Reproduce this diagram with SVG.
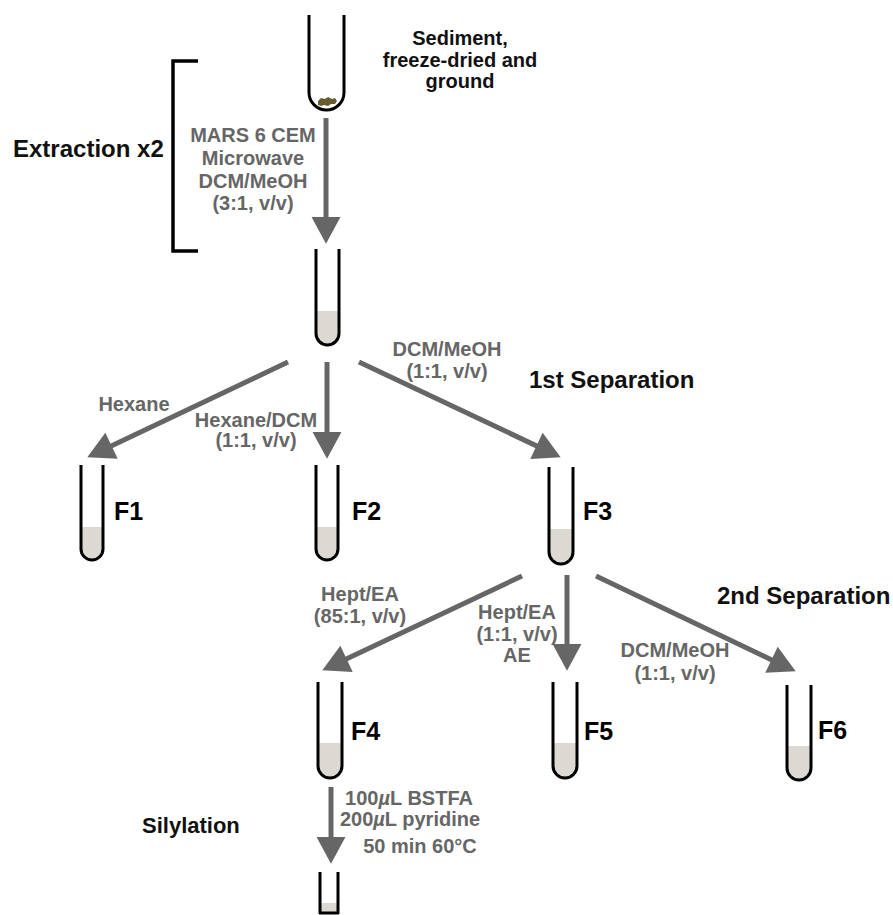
<svg xmlns="http://www.w3.org/2000/svg" width="893" height="915" viewBox="0 0 893 915">
<style>
.tube{fill:none;stroke:#000;stroke-width:3;stroke-linejoin:round}
.liq{fill:#dcd9d2;stroke:none}
.arr{stroke:#666;stroke-width:5;fill:none;marker-end:url(#ah)}
.g{font-family:"Liberation Sans",Arial,sans-serif;font-weight:bold;font-size:20px;fill:#666;text-anchor:middle}
.b{font-family:"Liberation Sans",Arial,sans-serif;font-weight:bold;font-size:20px;fill:#111;text-anchor:middle}
.h{font-family:"Liberation Sans",Arial,sans-serif;font-weight:bold;font-size:24px;fill:#111}
.f{font-family:"Liberation Sans",Arial,sans-serif;font-weight:bold;font-size:25px;fill:#000}
</style>
<defs>
<marker id="ah" markerUnits="userSpaceOnUse" markerWidth="30" markerHeight="30" viewBox="0 -14 26 28" refX="15" refY="0" orient="auto">
<path d="M0,-13.5 L25,0 L0,13.5 Z" fill="#666"/>
</marker>
</defs>
<rect width="893" height="915" fill="#fff"/>

<g id="sediment">
<path class="tube" d="M309,15 V92.5 A17.5,17.5 0 0 0 344,92.5 V15"/>
<path d="M318,101 l3,-3 l4,1 l3,-2 l4,2 l3,-1 l2,3 l-2,3 l-4,0 l-3,2 l-4,-1 l-3,1 l-3,-1 Z" fill="#6a5a32"/>
<text class="b" x="460" y="45">Sediment,</text>
<text class="b" x="460" y="67">freeze-dried and</text>
<text class="b" x="460" y="88">ground</text>
</g>

<g id="extraction">
<path d="M198,61 H173 V251 H198" fill="none" stroke="#000" stroke-width="3.5"/>
<text class="h" x="13" y="157">Extraction x2</text>
</g>

<g id="extract">
<path class="liq" d="M316,311 V333.5 A11.5,11.5 0 0 0 339,333.5 V311 Z"/>
<path class="tube" d="M316,249 V333.5 A11.5,11.5 0 0 0 339,333.5 V249"/>
</g>

<g id="F1">
<path class="liq" d="M81,527 V549 A11,11 0 0 0 103,549 V527 Z"/>
<path class="tube" d="M81,465 V549 A11,11 0 0 0 103,549 V465"/>
<text class="f" x="114" y="520">F1</text>
</g>

<g id="F2">
<path class="liq" d="M316,527 V549 A11,11 0 0 0 338,549 V527 Z"/>
<path class="tube" d="M316,465 V549 A11,11 0 0 0 338,549 V465"/>
<text class="f" x="352" y="520">F2</text>
</g>

<g id="F3">
<path class="liq" d="M549,529 V552 A12,12 0 0 0 573,552 V529 Z"/>
<path class="tube" d="M549,467 V552 A12,12 0 0 0 573,552 V467"/>
<text class="f" x="583" y="520">F3</text>
</g>

<g id="F4">
<path class="liq" d="M318,743 V766 A12,12 0 0 0 342,766 V743 Z"/>
<path class="tube" d="M318,682 V766 A12,12 0 0 0 342,766 V682"/>
<text class="f" x="351" y="740">F4</text>
</g>

<g id="F5">
<path class="liq" d="M553,743 V766 A12,12 0 0 0 577,766 V743 Z"/>
<path class="tube" d="M553,682 V766 A12,12 0 0 0 577,766 V682"/>
<text class="f" x="584" y="740">F5</text>
</g>

<g id="F6">
<path class="liq" d="M787,746 V768 A12,12 0 0 0 811,768 V746 Z"/>
<path class="tube" d="M787,685 V768 A12,12 0 0 0 811,768 V685"/>
<text class="f" x="818" y="739">F6</text>
</g>

<g id="silylated">
<rect class="liq" x="320" y="903" width="18" height="10"/>
<path class="tube" d="M320,872 V913 H338 V872"/>
</g>

<g id="headings">
<text class="h" x="529" y="388">1st Separation</text>
<text class="h" x="717" y="604">2nd Separation</text>
<text class="h" x="142" y="833" style="font-size:22px">Silylation</text>
</g>

<g id="connectors">
<line class="arr" x1="326" y1="118" x2="326" y2="233"/>
<line class="arr" x1="288" y1="362" x2="97" y2="452.7"/>
<line class="arr" x1="327" y1="362" x2="327" y2="448"/>
<line class="arr" x1="359" y1="362" x2="551" y2="452.7"/>
<line class="arr" x1="522" y1="576" x2="332" y2="665.7"/>
<line class="arr" x1="567" y1="575" x2="567" y2="660"/>
<line class="arr" x1="596" y1="576" x2="786" y2="666.7"/>
<line class="arr" x1="331" y1="787" x2="331" y2="853"/>
</g>

<g id="connector-labels">
<text class="g" x="253" y="142">MARS 6 CEM</text>
<text class="g" x="253" y="165">Microwave</text>
<text class="g" x="253" y="188">DCM/MeOH</text>
<text class="g" x="253" y="210">(3:1, v/v)</text>
<text class="g" x="134" y="411">Hexane</text>
<text class="g" x="256" y="427">Hexane/DCM</text>
<text class="g" x="256" y="447">(1:1, v/v)</text>
<text class="g" x="447" y="356">DCM/MeOH</text>
<text class="g" x="447" y="378">(1:1, v/v)</text>
<text class="g" x="360" y="601">Hept/EA</text>
<text class="g" x="360" y="623">(85:1, v/v)</text>
<text class="g" x="517" y="619">Hept/EA</text>
<text class="g" x="517" y="641">(1:1, v/v)</text>
<text class="g" x="517" y="662">AE</text>
<text class="g" x="675" y="657">DCM/MeOH</text>
<text class="g" x="675" y="680">(1:1, v/v)</text>
<text class="g" x="409" y="805">100<tspan font-style="italic">µ</tspan>L BSTFA</text>
<text class="g" x="410" y="826">200<tspan font-style="italic">µ</tspan>L pyridine</text>
<text class="g" x="420" y="853">50 min 60°C</text>
</g>
</svg>
